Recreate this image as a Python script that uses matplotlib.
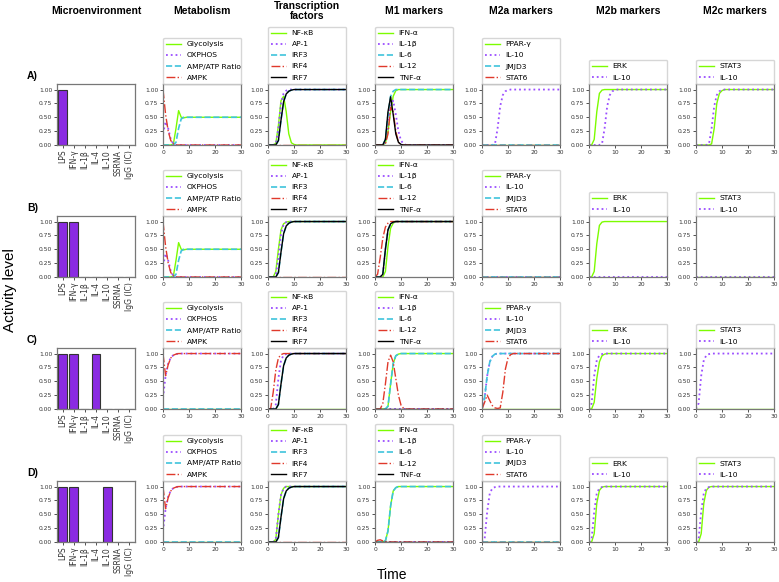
import matplotlib.pyplot as plt

# time points of the simulation
T = [0, 1, 2, 3, 4, 5, 6, 7, 8, 9, 10, 11, 12, 15, 20, 25, 30]
ZERO = [0] * 17

# microenvironment inputs
inputs = ["LPS", "IFN-γ", "IL-1β", "IL-4", "IL-10", "SSRNA", "IgG (IC)"]
env_A = [1, 0, 0, 0, 0, 0, 0]
env_B = [1, 1, 0, 0, 0, 0, 0]
env_C = [1, 1, 0, 1, 0, 0, 0]
env_D = [1, 1, 0, 0, 1, 0, 0]

# metabolism
glyc_A = [0, 0, 0, 0, 0.02, 0.3, 0.62, 0.5, 0.49, 0.5, 0.5, 0.5, 0.5, 0.5, 0.5, 0.5, 0.5]
oxphos_A = [0.2, 0.42, 0.3, 0.1, 0.02, 0, 0, 0, 0, 0, 0, 0, 0, 0, 0, 0, 0]
ampatp_A = [0, 0, 0, 0, 0, 0.05, 0.3, 0.47, 0.5, 0.5, 0.5, 0.5, 0.5, 0.5, 0.5, 0.5, 0.5]
ampk_A = [1.0, 0.55, 0.25, 0.08, 0.02, 0, 0, 0, 0, 0, 0, 0, 0, 0, 0, 0, 0]
oxphos_C = [0.2, 0.6, 0.82, 0.93, 0.97, 0.99, 1, 1, 1, 1, 1, 1, 1, 1, 1, 1, 1]
ampk_C = [1.0, 0.6, 0.8, 0.92, 0.97, 0.99, 1, 1, 1, 1, 1, 1, 1, 1, 1, 1, 1]

# transcription factors
nfkb_A = [0, 0, 0, 0.03, 0.35, 0.8, 0.88, 0.6, 0.2, 0.04, 0.01, 0, 0, 0, 0, 0, 0]
ap1_A = [0, 0, 0, 0.02, 0.3, 0.75, 0.93, 0.98, 1, 1, 1, 1, 1, 1, 1, 1, 1]
irf7_A = [0, 0, 0, 0, 0.08, 0.45, 0.78, 0.92, 0.97, 0.99, 1, 1, 1, 1, 1, 1, 1]
nfkb_B = [0, 0, 0, 0.1, 0.5, 0.85, 0.96, 0.99, 1, 1, 1, 1, 1, 1, 1, 1, 1]
ap1_B = [0, 0, 0, 0.03, 0.35, 0.78, 0.95, 0.99, 1, 1, 1, 1, 1, 1, 1, 1, 1]
irf4_C = [0, 0, 0.3, 0.7, 0.92, 0.98, 1, 1, 1, 1, 1, 1, 1, 1, 1, 1, 1]
ap1_C = [0, 0, 0, 0.08, 0.55, 0.88, 0.97, 0.99, 1, 1, 1, 1, 1, 1, 1, 1, 1]
ap1_D = [0, 0, 0, 0.05, 0.5, 0.85, 0.97, 1, 1, 1, 1, 1, 1, 1, 1, 1, 1]

# M1 markers
ifna_A = [0, 0, 0, 0, 0.03, 0.25, 0.6, 0.88, 0.98, 1, 1, 1, 1, 1, 1, 1, 1]
il1b_A = [0, 0, 0, 0, 0.05, 0.35, 0.72, 0.8, 0.55, 0.25, 0.08, 0.02, 0, 0, 0, 0, 0]
il6_A = [0, 0, 0, 0, 0.1, 0.55, 0.88, 0.97, 1, 1, 1, 1, 1, 1, 1, 1, 1]
il12_A = [0, 0, 0, 0, 0.02, 0.2, 0.68, 0.6, 0.25, 0.05, 0, 0, 0, 0, 0, 0, 0]
tnf_A = [0, 0, 0, 0, 0.1, 0.6, 0.87, 0.55, 0.2, 0.05, 0.01, 0, 0, 0, 0, 0, 0]
ifna_B = [0, 0, 0, 0, 0.1, 0.55, 0.88, 0.97, 1, 1, 1, 1, 1, 1, 1, 1, 1]
il12_B = [0, 0.05, 0.35, 0.7, 0.9, 0.97, 1, 1, 1, 1, 1, 1, 1, 1, 1, 1, 1]
tnf_B = [0, 0, 0, 0.05, 0.5, 0.85, 0.96, 0.99, 1, 1, 1, 1, 1, 1, 1, 1, 1]
ifna_C = [0, 0, 0, 0, 0, 0.05, 0.45, 0.82, 0.96, 0.99, 1, 1, 1, 1, 1, 1, 1]
il12_C = [0, 0, 0, 0.1, 0.45, 0.85, 0.97, 0.85, 0.55, 0.25, 0.07, 0.01, 0, 0, 0, 0, 0]
ifna_D = [0, 0, 0, 0, 0.02, 0.2, 0.65, 0.92, 0.98, 1, 1, 1, 1, 1, 1, 1, 1]
il12_D = [0, 0.03, 0.04, 0.02, 0.01, 0, 0, 0, 0, 0, 0, 0, 0, 0, 0, 0, 0]

# M2 markers
il10_A = [0, 0, 0, 0, 0, 0.02, 0.3, 0.7, 0.9, 0.97, 0.99, 1, 1, 1, 1, 1, 1]
erk_A = [0, 0, 0.1, 0.6, 0.93, 0.99, 1, 1, 1, 1, 1, 1, 1, 1, 1, 1, 1]
stat3_A = [0, 0, 0, 0, 0, 0, 0.02, 0.3, 0.75, 0.93, 0.98, 1, 1, 1, 1, 1, 1]
jmjd3_C = [0, 0.2, 0.6, 0.85, 0.95, 0.99, 1, 1, 1, 1, 1, 1, 1, 1, 1, 1, 1]
stat6_C = [0, 0.12, 0.25, 0.15, 0.06, 0.02, 0.01, 0.02, 0.3, 0.72, 0.92, 0.98, 1, 1, 1, 1, 1]
il10_C = [0, 0.1, 0.6, 0.88, 0.97, 0.99, 1, 1, 1, 1, 1, 1, 1, 1, 1, 1, 1]
erk_C = [0, 0, 0.12, 0.55, 0.85, 0.96, 0.99, 1, 1, 1, 1, 1, 1, 1, 1, 1, 1]
il10_D = [0, 0.05, 0.55, 0.88, 0.97, 0.99, 1, 1, 1, 1, 1, 1, 1, 1, 1, 1, 1]
erk_D = [0, 0, 0.15, 0.7, 0.93, 0.99, 1, 1, 1, 1, 1, 1, 1, 1, 1, 1, 1]

col_titles = ["Microenvironment", "Metabolism", "Transcription\nfactors",
              "M1 markers", "M2a markers", "M2b markers", "M2c markers"]
row_labels = ["A)", "B)", "C)", "D)"]
labels = [
    ["Glycolysis", "OXPHOS", "AMP/ATP Ratio", "AMPK"],
    ["NF-κB", "AP-1", "IRF3", "IRF4", "IRF7"],
    ["IFN-α", "IL-1β", "IL-6", "IL-12", "TNF-α"],
    ["PPAR-γ", "IL-10", "JMJD3", "STAT6"],
    ["ERK", "IL-10"],
    ["STAT3", "IL-10"],
]

envs = [env_A, env_B, env_C, env_D]
panels = [
    # row A
    [[glyc_A, oxphos_A, ampatp_A, ampk_A],
     [nfkb_A, ap1_A, irf7_A, ZERO, irf7_A],
     [ifna_A, il1b_A, il6_A, il12_A, tnf_A],
     [ZERO, il10_A, ZERO, ZERO],
     [erk_A, il10_A],
     [stat3_A, il10_A]],
    # row B
    [[glyc_A, oxphos_A, ampatp_A, ampk_A],
     [nfkb_B, ap1_B, irf7_A, ZERO, irf7_A],
     [ifna_B, tnf_B, tnf_B, il12_B, tnf_B],
     [ZERO, ZERO, ZERO, ZERO],
     [erk_A, ZERO],
     [ZERO, ZERO]],
    # row C
    [[ZERO, oxphos_C, ZERO, ampk_C],
     [ZERO, ap1_C, irf7_A, irf4_C, irf7_A],
     [ifna_C, ZERO, ifna_C, il12_C, ZERO],
     [ZERO, jmjd3_C, jmjd3_C, stat6_C],
     [erk_C, il10_C],
     [ZERO, il10_C]],
    # row D
    [[ZERO, oxphos_C, ZERO, ampk_C],
     [ap1_D, ap1_D, irf7_A, ZERO, irf7_A],
     [ifna_D, ZERO, ifna_D, il12_D, ZERO],
     [ZERO, il10_D, ZERO, ZERO],
     [erk_D, il10_D],
     [erk_D, il10_D]],
]

GREEN, PURPLE, CYAN, RED = "#7cfc00", "#9b4dff", "#3fc4dc", "#e0392b"
styles = [
    dict(color=GREEN, ls="-", lw=1.0),
    dict(color=PURPLE, ls=":", lw=1.3),
    dict(color=CYAN, ls="--", lw=1.2),
    dict(color=RED, ls="-.", lw=1.0),
    dict(color="black", ls="-", lw=1.0),
]

W, H = 779, 582
COL_X = [57, 163, 268, 375, 482, 589, 696]
ROW_Y = [84, 216, 348, 481]
AX_W, AX_H = 78, 61

fig = plt.figure(figsize=(W / 100, H / 100), dpi=100)
TITLE_FONT = "Liberation Sans"


def style_axes(ax):
    for sp in ax.spines.values():
        sp.set_color("#777777")
        sp.set_linewidth(0.9)
    ax.tick_params(labelsize=4.3, length=2, width=0.6, pad=1.5, colors="#333333")
    ax.set_ylim(0, 1.1)
    ax.set_yticks([0, 0.25, 0.5, 0.75, 1.0])


for r in range(4):
    for c in range(7):
        rect = [COL_X[c] / W, 1 - (ROW_Y[r] + AX_H) / H, AX_W / W, AX_H / H]
        ax = fig.add_axes(rect)
        style_axes(ax)
        if c == 0:
            ax.bar(inputs, envs[r], width=0.8, color="blueviolet",
                   edgecolor="#333333", linewidth=0.8)
            ax.set_xlim(-0.5, len(inputs) - 0.5)
            ax.tick_params(axis="x", labelsize=5.5, rotation=90)
            continue
        series = panels[r][c - 1]
        for i, (vals, lab) in enumerate(zip(series, labels[c - 1])):
            ax.plot(T, vals, label=lab, **styles[i])
        ax.set_xlim(0, 30)
        ax.set_xticks([0, 10, 20, 30])
        ax.legend(loc="lower left", bbox_to_anchor=(0, 1.0, 1, 0.2), mode="expand",
                  borderaxespad=0, fontsize=5.4, labelspacing=0.65, borderpad=0.45,
                  handlelength=2.0, handletextpad=0.7, frameon=True)

for c, title in enumerate(col_titles):
    fig.text((COL_X[c] + AX_W / 2) / W, 1 - 11 / H, title, ha="center", va="center",
             fontsize=7.5, fontweight="bold", family=TITLE_FONT, linespacing=1.05)

for r, lab in enumerate(row_labels):
    fig.text(27 / W, 1 - (ROW_Y[r] - 8) / H, lab, ha="left", va="center",
             fontsize=7.5, fontweight="bold", family=TITLE_FONT)

fig.text(10 / W, 1 - 290 / H, "Activity level", rotation=90, ha="center", va="center",
         fontsize=11, family=TITLE_FONT)
fig.text(392 / W, 1 - 575 / H, "Time", ha="center", va="center",
         fontsize=10, family=TITLE_FONT)

fig.savefig("out.png", dpi=100)
